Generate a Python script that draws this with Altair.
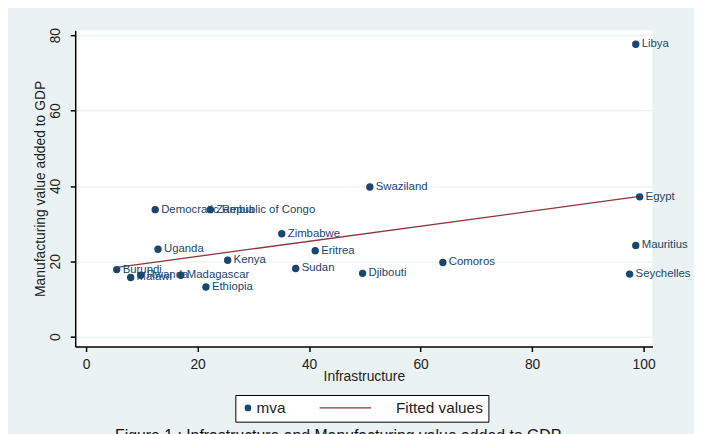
import altair as alt
import pandas as pd

countries = ["Libya", "Egypt", "Swaziland", "Mauritius", "Seychelles", "Comoros",
             "Djibouti", "Sudan", "Eritrea", "Zimbabwe", "Kenya", "Ethiopia",
             "Uganda", "Democratic Republic of Congo", "Zambia", "Burundi",
             "Malawi", "Rwanda", "Madagascar"]
infrastructure = [98.6, 99.3, 50.9, 98.6, 97.5, 64.0,
                  49.6, 37.6, 41.1, 35.1, 25.4, 21.5,
                  12.9, 12.4, 22.3, 5.5,
                  8.0, 9.8, 17.0]
mva = [77.6, 37.1, 39.7, 24.2, 16.6, 19.7,
       16.8, 18.1, 22.8, 27.3, 20.3, 13.2,
       23.2, 33.7, 33.7, 17.8,
       15.7, 16.3, 16.3]

fit_x = [5.5, 99.3]
fit_y = [18.4, 37.2]

series = ["mva", "Fitted values"]
series_colors = ["#1a476f", "#90353b"]
series_shapes = ["circle", "M-25,0L-6,0"]

x_ticks = [0, 20, 40, 60, 80, 100]
y_ticks = [0, 20, 40, 60, 80]

pts = pd.DataFrame({"country": countries, "infra": infrastructure, "mva": mva,
                    "series": ["mva"] * len(countries)})
fit = pd.DataFrame({"infra": fit_x, "mva": fit_y,
                    "series": ["Fitted values"] * len(fit_x)})

FONT = "Liberation Sans"

xenc = alt.X("infra:Q", scale=alt.Scale(domain=[-1.95, 101.6], nice=False, zero=False),
             axis=alt.Axis(title="Infrastructure", values=x_ticks, grid=False,
                           domainColor="black", domainWidth=1.5, tickColor="black",
                           tickWidth=1.5, tickSize=5, labelFontSize=14, labelColor="#222",
                           labelPadding=6, titleFontSize=14, titleFontWeight="normal",
                           titleColor="#222", titlePadding=-2, labelFont=FONT, titleFont=FONT))
yenc = alt.Y("mva:Q", scale=alt.Scale(domain=[-2.62, 81.31], nice=False, zero=False),
             axis=alt.Axis(title="Manufacturing value added to GDP", values=y_ticks,
                           grid=True, gridColor="#e6eef0", gridWidth=1,
                           domainColor="black", domainWidth=1.5, tickColor="black",
                           tickWidth=1.5, tickSize=5, labelFontSize=14, labelColor="#222",
                           labelAngle=270, labelAlign="center", labelBaseline="bottom",
                           labelPadding=8, titleFontSize=14, titleFontWeight="normal",
                           titleColor="#222", titlePadding=1, labelFont=FONT, titleFont=FONT))

color_scale = alt.Scale(domain=series, range=series_colors)
shape_scale = alt.Scale(domain=series, range=series_shapes)
leg = alt.Legend(title=None, orient="none", legendX=162, legendY=369, direction="horizontal",
                 strokeColor="black", fillColor="white", padding=5, columnPadding=31,
                 labelFontSize=15.5, labelColor="#222", labelFont=FONT, symbolStrokeWidth=1.3,
                 symbolSize=30, labelOffset=1, cornerRadius=0)

points = alt.Chart(pts).mark_point(filled=True, opacity=1, size=30).encode(
    x=xenc, y=yenc,
    fill=alt.Fill("series:N", scale=color_scale, legend=leg),
    stroke=alt.Stroke("series:N", scale=color_scale, legend=leg),
    shape=alt.Shape("series:N", scale=shape_scale, legend=leg),
)

labels = alt.Chart(pts).mark_text(align="left", baseline="middle", dx=6, fontSize=11.5,
                                   font=FONT, color="#1a476f").encode(
    x=alt.X("infra:Q"), y=alt.Y("mva:Q"), text="country:N")

line = alt.Chart(fit).mark_line(strokeWidth=1.3).encode(
    x=alt.X("infra:Q"), y=alt.Y("mva:Q"),
    stroke=alt.Stroke("series:N", scale=color_scale, legend=leg),
)

chart = alt.layer(line, points, labels).properties(
    width=584, height=320,
    autosize=alt.AutoSizeParams(type="none"),
    padding={"left": 68, "top": 20, "right": 42, "bottom": 90},
    background="#eaf2f3",
    title=alt.TitleParams("Figure 1 : Infrastructure and Manufacturing value added to GDP",
                          orient="bottom", anchor="middle", fontSize=16, font=FONT,
                          fontWeight="normal", color="#111", offset=6, baseline="top",
                          dx=-26),
).configure_view(fill="white", stroke=None)

chart.save("out.html", embed_options={"renderer": "svg", "actions": False})
